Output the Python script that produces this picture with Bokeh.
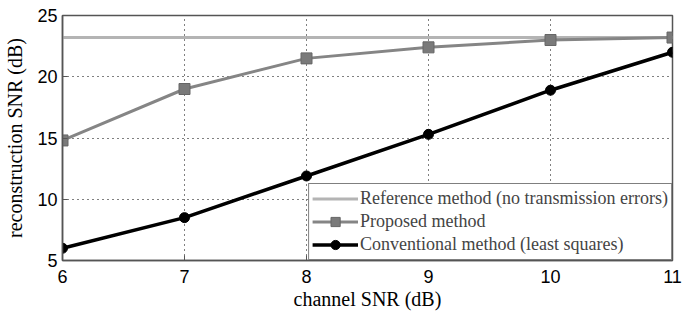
from bokeh.plotting import figure
from bokeh.embed import file_html
from bokeh.resources import INLINE
from bokeh.models import Legend, LegendItem, FixedTicker

snr = [6, 7, 8, 9, 10, 11]
reference = [23.2, 23.2, 23.2, 23.2, 23.2, 23.2]
proposed = [14.8, 19.0, 21.5, 22.4, 23.0, 23.2]
conventional = [6.0, 8.5, 11.9, 15.3, 18.9, 22.0]
x_ticks = [6, 7, 8, 9, 10, 11]
y_ticks = [5, 10, 15, 20, 25]

p = figure(width=682, height=314, output_backend="svg", toolbar_location=None,
           x_range=(6, 11), y_range=(5, 25),
           frame_width=610, frame_height=245,
           min_border_left=62, min_border_right=10, min_border_top=15, min_border_bottom=54)

p.outline_line_color = "#555555"
p.outline_line_width = 1.5
p.background_fill_color = "white"
p.border_fill_color = "white"

r_ref = p.line(snr, reference, line_color="#b4b4b4", line_width=3)
r_prop = p.line(snr, proposed, line_color="#858585", line_width=3)
r_prop_m = p.scatter(snr, proposed, marker="square", size=11, fill_color="#7a7a7a",
                     line_color="#666666")
r_conv = p.line(snr, conventional, line_color="black", line_width=3.5)
r_conv_m = p.scatter(snr, conventional, marker="circle", size=10, fill_color="black",
                     line_color="black")

for ax in (p.xaxis[0], p.yaxis[0]):
    ax.major_tick_in = 5
    ax.major_tick_out = 0
    ax.minor_tick_in = 0
    ax.minor_tick_out = 0
    ax.axis_line_color = "#555555"
    ax.axis_line_width = 1.5
    ax.major_tick_line_color = "#555555"
    ax.major_label_text_font = "Liberation Sans"
    ax.major_label_text_font_size = "18px"
    ax.major_label_text_color = "black"
    ax.axis_label_text_font = "Liberation Serif"
    ax.axis_label_text_font_size = "20px"
    ax.axis_label_text_font_style = "normal"
    ax.axis_label_text_color = "black"

p.xaxis.ticker = FixedTicker(ticks=x_ticks)
p.yaxis.ticker = FixedTicker(ticks=y_ticks)
p.xaxis.axis_label = "channel SNR (dB)"
p.yaxis.axis_label = "reconstruction SNR (dB)"
p.xaxis.major_label_standoff = 9
p.xaxis.axis_label_standoff = 2
p.yaxis.major_label_standoff = 5
p.yaxis.axis_label_standoff = 8

p.xgrid.ticker = FixedTicker(ticks=x_ticks)
p.ygrid.ticker = FixedTicker(ticks=y_ticks)
for g in (p.xgrid[0], p.ygrid[0]):
    g.grid_line_color = "black"
    g.grid_line_dash = "1 4"
    g.grid_line_width = 1

legend = Legend(items=[
    LegendItem(label="Reference method (no transmission errors)", renderers=[r_ref]),
    LegendItem(label="Proposed method", renderers=[r_prop, r_prop_m]),
    LegendItem(label="Conventional method (least squares)", renderers=[r_conv, r_conv_m]),
], location="bottom_right")
legend.margin = 0
legend.padding = 3
legend.spacing = 0
legend.label_text_font = "Liberation Serif"
legend.label_text_font_size = "18px"
legend.label_height = 23
legend.glyph_height = 23
legend.glyph_width = 46
legend.label_standoff = 2
legend.border_line_color = "black"
legend.border_line_width = 1.5
legend.background_fill_alpha = 1
p.add_layout(legend)

open("out.html", "w").write(file_html(p, INLINE))
